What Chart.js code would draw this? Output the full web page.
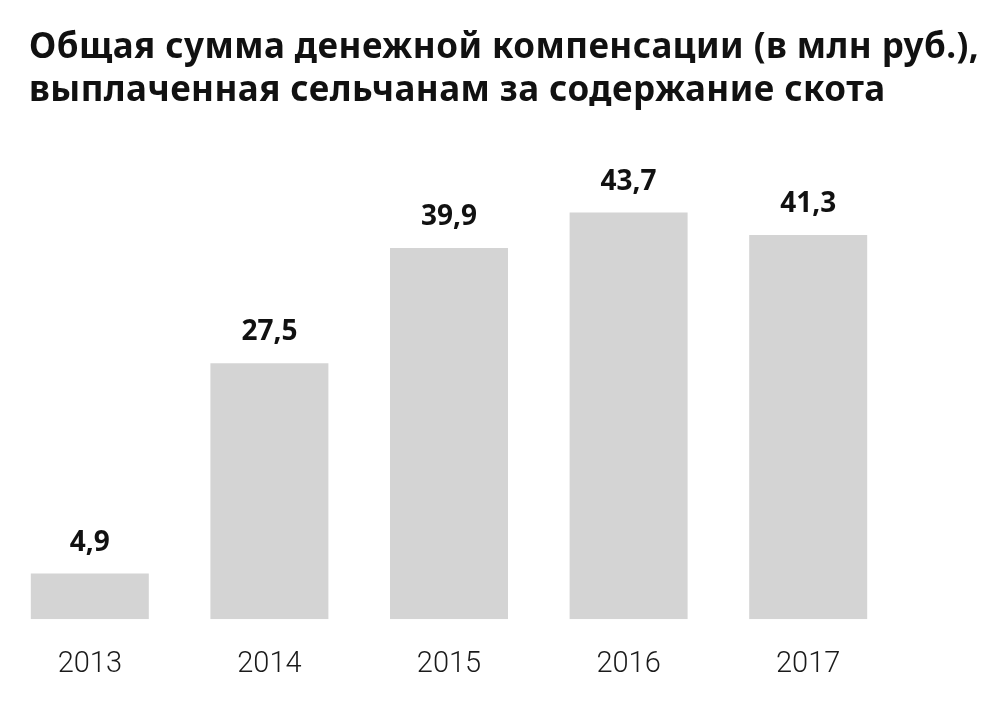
<!DOCTYPE html>
<html>
<head>
<meta charset="utf-8">
<script src="https://cdn.jsdelivr.net/npm/chart.js@4"></script>
<style>
  html, body { margin: 0; padding: 0; background: #fff; }
  #wrap { width: 1008px; height: 702px; }
</style>
</head>
<body>
<div id="wrap"><canvas id="compChart" width="1008" height="702"></canvas></div>
<script>
const years = ['2013', '2014', '2015', '2016', '2017'];
const amounts = [4.9, 27.5, 39.9, 43.7, 41.3];
const titleLines = [
    'Общая сумма денежной компенсации (в млн руб.),',
    'выплаченная сельчанам за содержание скота'
];

// title in the top-left corner
const titlePlugin = {
    id: 'titleText',
    afterDraw(chart) {
        const ctx = chart.ctx;
        ctx.save();
        ctx.fillStyle = '#111';
        ctx.font = 'bold 35px "Noto Sans"';
        ctx.letterSpacing = '0.45px';
        ctx.textAlign = 'left';
        ctx.textBaseline = 'alphabetic';
        ctx.fillText(titleLines[0], 29, 58);
        ctx.fillText(titleLines[1], 29, 101);
        ctx.restore();
    }
};

// value above each bar, decimal comma
const valuePlugin = {
    id: 'valueLabels',
    afterDatasetsDraw(chart) {
        const ctx = chart.ctx;
        const meta = chart.getDatasetMeta(0);
        ctx.save();
        ctx.fillStyle = '#111';
        ctx.font = 'bold 28px "Noto Sans"';
        ctx.textAlign = 'center';
        ctx.textBaseline = 'alphabetic';
        meta.data.forEach(function (bar, i) {
            ctx.fillText(String(amounts[i]).replace('.', ','), bar.x, bar.y - 23);
        });
        ctx.restore();
    }
};

const ctx = document.getElementById('compChart').getContext('2d');
new Chart(ctx, {
    type: 'bar',
    data: {
        labels: years,
        datasets: [{
            data: amounts,
            backgroundColor: '#d4d4d4',
            borderWidth: 0,
            barPercentage: 0.657,
            categoryPercentage: 1
        }]
    },
    options: {
        responsive: false,
        animation: false,
        layout: { padding: { top: 154, left: 0, right: 110, bottom: 0 } },
        plugins: {
            legend: { display: false },
            tooltip: { enabled: false }
        },
        scales: {
            x: {
                grid: { display: false },
                border: { display: false },
                ticks: {
                    color: '#1a1a1a',
                    font: { family: 'Roboto', size: 29, weight: '300' },
                    padding: 20
                }
            },
            y: {
                display: false,
                min: 0,
                max: 50
            }
        }
    },
    plugins: [titlePlugin, valuePlugin]
});
</script>
</body>
</html>
